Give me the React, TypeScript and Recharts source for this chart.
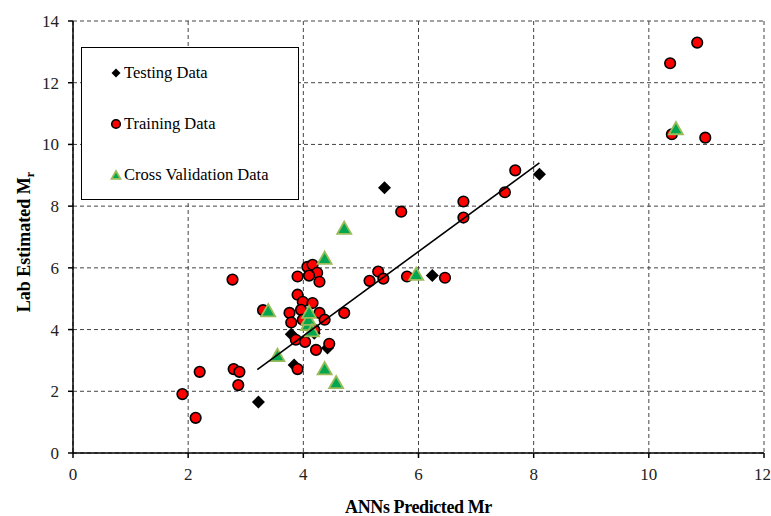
import { ScatterChart, Scatter, XAxis, YAxis, CartesianGrid, Legend, Label } from 'recharts';

// values (x = ANNs predicted, y = lab estimated)
const testingData: Array<[number, number]> = [
  [3.22, 1.65], [3.84, 2.85], [3.79, 3.85], [4.19, 3.88], [4.42, 3.4],
  [5.41, 8.6], [6.24, 5.75], [8.1, 9.03],
];

const trainingData: Array<[number, number]> = [
  [1.9, 1.91], [2.13, 1.14], [2.2, 2.63], [2.77, 5.62], [2.79, 2.72], [2.89, 2.63], [2.87, 2.2],
  [3.3, 4.63], [3.76, 4.54], [3.79, 4.23], [3.9, 5.72], [3.9, 5.13], [3.99, 4.9], [4.16, 4.86],
  [3.96, 4.64], [3.99, 4.32], [4.28, 4.54], [4.37, 4.32], [4.71, 4.54], [3.87, 3.67], [4.03, 3.6],
  [4.22, 3.34], [4.45, 3.54], [3.9, 2.72], [4.07, 6.03], [4.16, 6.1], [4.24, 5.84], [4.1, 5.75],
  [4.28, 5.55], [4.19, 3.99], [5.15, 5.58], [5.3, 5.88], [5.39, 5.65], [5.8, 5.72], [6.46, 5.68],
  [5.7, 7.82], [6.78, 7.63], [6.78, 8.15], [7.5, 8.45], [7.68, 9.16], [10.4, 10.33], [10.37, 12.63],
  [10.84, 13.3], [10.98, 10.22],
];

const crossValidationData: Array<[number, number]> = [
  [3.39, 4.6], [3.55, 3.15], [4.08, 4.15], [4.09, 4.32], [4.1, 4.55], [4.15, 3.95], [4.37, 6.3],
  [4.37, 2.72], [4.57, 2.27], [4.71, 7.27], [5.96, 5.78], [10.47, 10.5],
];

const trendLine: Array<[number, number]> = [[3.2, 2.7], [8.1, 9.4]];

const xTicks = [0, 2, 4, 6, 8, 10, 12];
const yTicks = [0, 2, 4, 6, 8, 10, 12, 14];

const toPoints = (arr: Array<[number, number]>) => arr.map(([x, y]) => ({ x, y }));

const FONT = '"Liberation Serif", "Times New Roman", serif';

const Diamond = ({ cx, cy, s = 6.5 }: any) => (
  <path d={`M${cx},${cy - s}L${cx + s},${cy}L${cx},${cy + s}L${cx - s},${cy}Z`} fill="#000" />
);
const Dot = ({ cx, cy, r = 5.3 }: any) => (
  <circle cx={cx} cy={cy} r={r} fill="#FF0000" stroke="#000" strokeWidth={1.6} />
);
const Tri = ({ cx, cy, s = 7 }: any) => (
  <path
    d={`M${cx},${cy - s}L${cx + s},${cy + s * 0.75}L${cx - s},${cy + s * 0.75}Z`}
    fill="#00A650"
    stroke="#9BBB59"
    strokeWidth={1.8}
  />
);

const LegendBox = () => {
  const items = [
    { label: 'Testing Data', icon: <Diamond cx={6} cy={7} s={4.5} /> },
    { label: 'Training Data', icon: <Dot cx={6} cy={7} r={4.3} /> },
    { label: 'Cross Validation Data', icon: <Tri cx={6} cy={7.5} s={4.5} /> },
  ];
  return (
    <div
      style={{
        width: 218,
        height: 153,
        border: '1px solid #000',
        background: '#fff',
        fontFamily: FONT,
        fontSize: 16.5,
        color: '#000',
        boxSizing: 'border-box',
        position: 'relative',
      }}
    >
      {items.map((it, i) => (
        <div key={it.label} style={{ position: 'absolute', left: 28, top: 15 + i * 51, display: 'flex', alignItems: 'center' }}>
          <svg width={12} height={14} style={{ marginRight: 2 }}>
            {it.icon}
          </svg>
          <span>{it.label}</span>
        </div>
      ))}
    </div>
  );
};

const YTitle = () => (
  <text
    x={30}
    y={242}
    transform="rotate(-90, 30, 242)"
    textAnchor="middle"
    fontFamily={FONT}
    fontWeight="bold"
    fontSize={18}
    fill="#000"
  >
    Lab Estimated M<tspan fontSize={12} dy={4}>r</tspan>
  </text>
);

const XTitle = (props: any) => {
  const vb = props.viewBox || { x: 0, width: 0 };
  return (
    <text
      x={vb.x + vb.width / 2}
      y={513}
      textAnchor="middle"
      fontFamily={FONT}
      fontWeight="bold"
      fontSize={18}
      fill="#000"
      letterSpacing={-0.4}
    >
      ANNs Predicted Mr
    </text>
  );
};

export default function App() {
  return (
    <div style={{ position: 'fixed', left: 0, top: 0, width: 771, height: 516, background: '#fff' }}>
      <ScatterChart width={771} height={516} margin={{ top: 21, right: 7, bottom: 0, left: 0 }}>
        <CartesianGrid stroke="#444" strokeDasharray="4 3" strokeWidth={1} />
        <XAxis
          type="number"
          dataKey="x"
          domain={[0, 12]}
          ticks={xTicks}
          allowDataOverflow
          height={63}
          stroke="#000"
          strokeWidth={1.5}
          tickSize={5}
          tickMargin={10}
          tick={{ fill: '#222', fontSize: 17, fontFamily: FONT }}
        >
          <Label content={<XTitle />} />
        </XAxis>
        <XAxis xAxisId="top" orientation="top" type="number" domain={[0, 12]} height={0} tick={false} tickLine={false} stroke="#888" strokeWidth={1.5} />
        <YAxis
          type="number"
          dataKey="y"
          domain={[0, 14]}
          ticks={yTicks}
          allowDataOverflow
          width={73}
          stroke="#000"
          strokeWidth={1.5}
          tickSize={5}
          tickMargin={9}
          tick={{ fill: '#222', fontSize: 17, fontFamily: FONT }}
        >
          <Label content={<YTitle />} />
        </YAxis>
        <YAxis yAxisId="right" orientation="right" type="number" domain={[0, 14]} width={0} tick={false} tickLine={false} stroke="#888" strokeWidth={1.5} />
        <Legend
          layout="horizontal"
          verticalAlign="middle"
          align="center"
          wrapperStyle={{ left: 81, top: 47, width: 218, height: 153 }}
          content={<LegendBox />}
        />
        <Scatter name="Testing Data" data={toPoints(testingData)} shape={<Diamond />} isAnimationActive={false} />
        <Scatter name="Training Data" data={toPoints(trainingData)} shape={<Dot />} isAnimationActive={false} />
        <Scatter name="Cross Validation Data" data={toPoints(crossValidationData)} shape={<Tri />} isAnimationActive={false} />
        <Scatter
          name="trend"
          data={toPoints(trendLine)}
          line={{ stroke: '#000', strokeWidth: 1.6 }}
          shape={() => <g />}
          legendType="none"
          isAnimationActive={false}
        />
      </ScatterChart>
    </div>
  );
}
